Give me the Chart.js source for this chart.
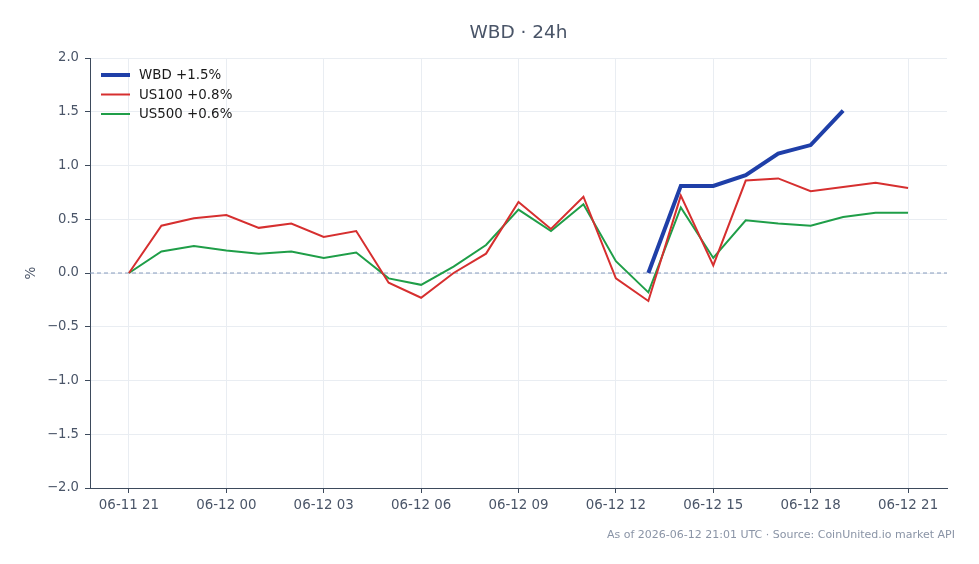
<!DOCTYPE html>
<html>
<head>
<meta charset="utf-8">
<script src="https://cdn.jsdelivr.net/npm/chart.js@4.4.1/dist/chart.umd.min.js"></script>
<style>
  html, body { margin: 0; padding: 0; background: #fff; }
  #wrap { width: 979px; height: 564px; }
</style>
</head>
<body>
<div id="wrap"><canvas id="cmpChart" width="979" height="564"></canvas></div>
<script>
// hourly points, 06-11 21:00 -> 06-12 21:00
var hours = ['06-11 21', '22', '23', '06-12 00', '01', '02', '06-12 03', '04', '05',
             '06-12 06', '07', '08', '06-12 09', '10', '11', '06-12 12', '13', '14',
             '06-12 15', '16', '17', '06-12 18', '19', '20', '06-12 21'];
var tickLabels = ['06-11 21', '06-12 00', '06-12 03', '06-12 06', '06-12 09',
                  '06-12 12', '06-12 15', '06-12 18', '06-12 21'];
var seriesNames = ['WBD +1.5%', 'US100 +0.8%', 'US500 +0.6%'];

var wbd = [null, null, null, null, null, null, null, null, null, null, null, null,
           null, null, null, null, 0.0, 0.81, 0.81, 0.91, 1.11, 1.19, 1.51, null, null];
var us100 = [0.0, 0.44, 0.51, 0.54, 0.42, 0.46, 0.335, 0.39, -0.09, -0.23, 0.0, 0.18,
             0.66, 0.41, 0.71, -0.05, -0.26, 0.72, 0.07, 0.86, 0.88, 0.76, 0.80, 0.84, 0.79];
var us500 = [0.0, 0.20, 0.25, 0.21, 0.18, 0.20, 0.14, 0.19, -0.05, -0.11, 0.06, 0.26,
             0.59, 0.39, 0.64, 0.11, -0.18, 0.61, 0.14, 0.49, 0.46, 0.44, 0.52, 0.56, 0.56];

var FONT = "'DejaVu Sans', sans-serif";

function toPoints(arr) {
    return arr.map(function (v, i) { return { x: i, y: v }; });
}

// title, footer, y label and the inside legend are drawn by hand
var decorPlugin = {
    id: 'decor',
    afterDraw: function (chart) {
        var ctx = chart.ctx;
        var area = chart.chartArea;
        ctx.save();
        ctx.fillStyle = '#4a5568';
        ctx.font = '18.5px ' + FONT;
        ctx.textAlign = 'center';
        ctx.textBaseline = 'middle';
        ctx.fillText('WBD \u00b7 24h', (area.left + area.right) / 2, 33);

        ctx.save();
        ctx.translate(31, (area.top + area.bottom) / 2);
        ctx.rotate(-Math.PI / 2);
        ctx.font = '13.5px ' + FONT;
        ctx.fillText('%', 0, 0);
        ctx.restore();

        ctx.fillStyle = '#8a94a6';
        ctx.font = '11px ' + FONT;
        ctx.textAlign = 'right';
        ctx.fillText('As of 2026-06-12 21:01 UTC \u00b7 Source: CoinUnited.io market API', 955, 535);

        // legend
        ctx.textAlign = 'left';
        ctx.font = '13.4px ' + FONT;
        chart.data.datasets.forEach(function (ds, i) {
            var y = 75 + i * 19.5;
            ctx.strokeStyle = ds.borderColor;
            ctx.lineWidth = ds.borderWidth;
            ctx.beginPath();
            ctx.moveTo(101, y);
            ctx.lineTo(130, y);
            ctx.stroke();
            ctx.fillStyle = '#1a1a1a';
            ctx.fillText(ds.label, 139, y + 1);
        });
        ctx.restore();
    }
};

// dashed zero line
var zeroPlugin = {
    id: 'zeroLine',
    beforeDatasetsDraw: function (chart) {
        var ctx = chart.ctx;
        var area = chart.chartArea;
        var y0 = chart.scales.y.getPixelForValue(0);
        ctx.save();
        ctx.strokeStyle = '#879cbd';
        ctx.lineWidth = 1;
        ctx.setLineDash([4, 3]);
        ctx.beginPath();
        ctx.moveTo(area.left, y0);
        ctx.lineTo(area.right, y0);
        ctx.stroke();
        ctx.restore();
    }
};

document.addEventListener('DOMContentLoaded', function () {
    var ctx = document.getElementById('cmpChart').getContext('2d');
    var chart = new Chart(ctx, {
        type: 'line',
        data: {
            datasets: [{
                label: seriesNames[0],
                data: toPoints(wbd),
                borderColor: '#1f3fa8',
                borderWidth: 4,
                order: 0
            }, {
                label: seriesNames[1],
                data: toPoints(us100),
                borderColor: '#d62f2f',
                borderWidth: 2,
                order: 1
            }, {
                label: seriesNames[2],
                data: toPoints(us500),
                borderColor: '#1f9e48',
                borderWidth: 2,
                order: 2
            }]
        },
        options: {
            responsive: false,
            animation: false,
            spanGaps: false,
            elements: { point: { radius: 0 }, line: { tension: 0 } },
            layout: { padding: { left: 0, right: 32, top: 58, bottom: 36 } },
            plugins: {
                legend: { display: false },
                title: { display: false },
                tooltip: { enabled: false }
            },
            scales: {
                x: {
                    type: 'linear',
                    min: -1.2,
                    max: 25.2,
                    afterBuildTicks: function (scale) {
                        scale.ticks = tickLabels.map(function (t, i) { return { value: i * 3 }; });
                    },
                    afterFit: function (scale) { scale.height = 40; },
                    ticks: {
                        color: '#4a5568',
                        font: { family: FONT, size: 13.4 },
                        padding: 4,
                        maxRotation: 0,
                        autoSkip: false,
                        callback: function (v) { return hours[v]; }
                    },
                    grid: { color: '#e9edf2', tickColor: '#3d4a5c', tickLength: 5 },
                    border: { color: '#3d4a5c', width: 1 }
                },
                y: {
                    min: -2,
                    max: 2,
                    afterFit: function (scale) { scale.width = 90; },
                    ticks: {
                        stepSize: 0.5,
                        color: '#4a5568',
                        font: { family: FONT, size: 13.2 },
                        padding: 6,
                        callback: function (v) {
                            return (v < 0 ? '\u2212' + Math.abs(v).toFixed(1) : v.toFixed(1));
                        }
                    },
                    grid: { color: '#e9edf2', tickColor: '#3d4a5c', tickLength: 5 },
                    border: { color: '#3d4a5c', width: 1 }
                }
            }
        },
        plugins: [zeroPlugin, decorPlugin]
    });
});
</script>
</body>
</html>
